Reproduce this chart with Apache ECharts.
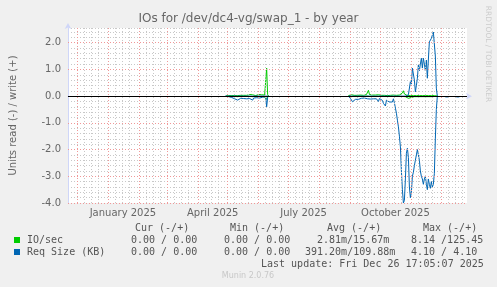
<!DOCTYPE html>
<html>
<head>
<meta charset="utf-8">
<script src="https://cdn.jsdelivr.net/npm/echarts@6/dist/echarts.min.js"></script>
<style>
html, body { margin: 0; padding: 0; background: #f0f0f0; }
#chart { width: 497px; height: 287px; }
</style>
</head>
<body>
<div id="chart"></div>
<script>
// --- data (one value per day) ---
const rangeStart = '2024-11-22';
const rangeEnd = '2025-12-26T17:05:07Z';

const monthStarts = ['2024-12-01', '2025-01-01', '2025-02-01', '2025-03-01', '2025-04-01', '2025-05-01',
    '2025-06-01', '2025-07-01', '2025-08-01', '2025-09-01', '2025-10-01', '2025-11-01', '2025-12-01'];
const labelDates = ['2025-01-16', '2025-04-16', '2025-07-16', '2025-10-16'];
const labelTexts = ['January 2025', 'April 2025', 'July 2025', 'October 2025'];
const yTicks = [-4, -3, -2, -1, 0, 1, 2];

// spring block, starts 2025-04-29
const springStart = '2025-04-29';
const springIoWrite = [0.00, 0.02, 0.03, 0.02, 0.04, 0.03, 0.02, 0.05, 0.03, 0.02, 0.06, 0.03, 0.02, 0.04, 0.06,
    0.03, 0.02, 0.05, 0.03, 0.06, 0.02, 0.03, 0.05, 0.02, 0.06, 0.03, 0.02, 0.05, 0.03, 0.06, 0.02, 0.04, 0.03,
    0.06, 0.02, 0.03, 0.05, 0.03, 0.02, 0.04, 0.10, 1.05, 0.05, 0.00];
const springIoRead = [0.00, 0.01, 0.00, 0.01, 0.02, 0.01, 0.00, 0.01, 0.02, 0.01, 0.01, 0.00, 0.02, 0.01, 0.01,
    0.00, 0.01, 0.02, 0.01, 0.00, 0.01, 0.01, 0.02, 0.00, 0.01, 0.01, 0.00, 0.02, 0.01, 0.01, 0.00, 0.01, 0.02,
    0.01, 0.00, 0.01, 0.01, 0.02, 0.01, 0.03, 0.05, 0.12, 0.02, 0.00];
const springReqWrite = [0.00, 0.00, 0.00, 0.00, 0.00, 0.00, 0.00, 0.00, 0.00, 0.00, 0.00, 0.00, 0.00, 0.00, 0.00,
    0.00, 0.00, 0.00, 0.00, 0.00, 0.00, 0.00, 0.00, 0.00, 0.00, 0.00, 0.00, 0.00, 0.00, 0.00, 0.00, 0.00, 0.00,
    0.00, 0.00, 0.00, 0.00, 0.00, 0.00, 0.00, 0.00, 0.05, 0.00, 0.00];
const springReqRead = [0.00, 0.02, 0.03, 0.02, 0.04, 0.02, 0.05, 0.03, 0.08, 0.10, 0.12, 0.17, 0.15, 0.17, 0.12,
    0.08, 0.10, 0.07, 0.09, 0.06, 0.08, 0.10, 0.07, 0.05, 0.09, 0.06, 0.11, 0.15, 0.07, 0.05, 0.10, 0.06, 0.08,
    0.05, 0.07, 0.03, 0.06, 0.04, 0.03, 0.05, 0.02, 0.40, 0.05, 0.00];

// autumn block, starts 2025-08-30
const autumnStart = '2025-08-30';
const autumnIoWrite = [0.02, 0.04, 0.05, 0.05, 0.04, 0.05, 0.03, 0.03, 0.04, 0.03,
    0.02, 0.03, 0.04, 0.03, 0.02, 0.03, 0.04, 0.05, 0.06, 0.12,
    0.22, 0.06, 0.04, 0.03, 0.04, 0.03, 0.05, 0.04, 0.03, 0.04,
    0.05, 0.03, 0.04, 0.03, 0.04, 0.05, 0.03, 0.04, 0.03, 0.02,
    0.03, 0.04, 0.03, 0.02, 0.03, 0.04, 0.03, 0.04, 0.03, 0.04,
    0.05, 0.04, 0.06, 0.08, 0.12, 0.20, 0.08, 0.04, 0.03, 0.02,
    0.02, 0.01, 0.02, 0.02, 0.01, 0.02, 0.02, 0.01, 0.02, 0.02,
    0.01, 0.02, 0.02, 0.01, 0.02, 0.02, 0.01, 0.02, 0.02, 0.01,
    0.02, 0.02, 0.01, 0.02, 0.02, 0.01, 0.02, 0.01, 0.01, 0.00];
const autumnIoRead = [0.00, 0.01, 0.01, 0.02, 0.01, 0.01, 0.00, 0.01, 0.01, 0.02,
    0.01, 0.01, 0.00, 0.01, 0.01, 0.02, 0.01, 0.01, 0.00, 0.01,
    0.02, 0.01, 0.01, 0.00, 0.01, 0.01, 0.02, 0.01, 0.01, 0.00,
    0.01, 0.01, 0.02, 0.01, 0.01, 0.00, 0.01, 0.01, 0.02, 0.01,
    0.01, 0.00, 0.01, 0.01, 0.02, 0.01, 0.01, 0.02, 0.01, 0.01,
    0.00, 0.01, 0.02, 0.01, 0.01, 0.02, 0.01, 0.02, 0.03, 0.04,
    0.08, 0.03, 0.02, 0.05, 0.02, 0.01, 0.02, 0.01, 0.01, 0.02,
    0.01, 0.01, 0.02, 0.01, 0.01, 0.02, 0.01, 0.01, 0.02, 0.01,
    0.01, 0.02, 0.01, 0.01, 0.02, 0.01, 0.01, 0.01, 0.01, 0.00];
const autumnReqWrite = [0.00, 0.00, 0.00, 0.00, 0.00, 0.00, 0.00, 0.00, 0.00, 0.00,
    0.00, 0.00, 0.00, 0.00, 0.00, 0.00, 0.00, 0.00, 0.00, 0.00,
    0.00, 0.00, 0.00, 0.00, 0.00, 0.00, 0.00, 0.00, 0.00, 0.00,
    0.00, 0.00, 0.00, 0.00, 0.00, 0.00, 0.00, 0.00, 0.00, 0.00,
    0.00, 0.00, 0.00, 0.00, 0.00, 0.00, 0.00, 0.00, 0.00, 0.00,
    0.00, 0.00, 0.00, 0.00, 0.00, 0.00, 0.00, 0.00, 0.00, 0.00,
    0.05, 0.04, 0.54, 0.45, 1.05, 1.07, 0.60, 0.16, 0.40, 0.67,
    1.16, 0.95, 1.20, 1.42, 1.05, 1.42, 1.20, 0.95, 1.35, 0.67,
    1.35, 2.03, 2.10, 2.16, 2.28, 2.40, 2.45, 1.50, 0.30, 0.00];
const autumnReqRead = [0.00, 0.05, 0.09, 0.12, 0.21, 0.14, 0.17, 0.12, 0.15, 0.10,
    0.12, 0.09, 0.11, 0.08, 0.12, 0.10, 0.07, 0.09, 0.06, 0.10,
    0.08, 0.07, 0.11, 0.09, 0.08, 0.10, 0.12, 0.08, 0.10, 0.14,
    0.20, 0.09, 0.12, 0.10, 0.16, 0.27, 0.32, 0.37, 0.15, 0.20,
    0.18, 0.22, 0.15, 0.18, 0.22, 0.10, 0.25, 0.45, 0.64, 0.90,
    1.15, 1.50, 1.90, 2.80, 3.50, 4.00, 3.90, 3.10, 2.14, 1.95,
    2.30, 3.40, 3.80, 3.60, 3.00, 2.85, 2.60, 2.40, 2.20, 2.00,
    1.95, 2.40, 2.80, 3.00, 3.10, 3.30, 3.10, 3.00, 3.30, 3.50,
    3.10, 3.30, 3.45, 3.20, 3.40, 3.30, 2.90, 1.60, 0.50, 0.00];

// a few tiny samples in December
const lateStart = '2025-12-05';
const lateReqRead = [0.03, 0.03, 0.03, 0.03, null, null, null, null, null, null, null, 0.03, 0.03, 0.03, 0.03];

// legend table
const statHeads = ['Cur (-/+)', 'Min (-/+)', 'Avg (-/+)', 'Max (-/+)'];
const ioStats = ['0.00 / 0.00', '0.00 / 0.00', '2.81m/15.67m', '8.14 /125.45'];
const reqStats = ['0.00 / 0.00', '0.00 / 0.00', '391.20m/109.88m', '4.10 / 4.10'];
const lastUpdate = 'Last update: Fri Dec 26 17:05:07 2025';

// --- helpers ---
const DAY = 86400000;
const ts = (d) => new Date(d.length > 10 ? d : d + 'T00:00:00Z').getTime();

function points(blocks, sign) {
    let out = [];
    blocks.forEach(([start, vals]) => {
        const t0 = ts(start);
        vals.forEach((v, i) => out.push([t0 + i * DAY, v == null ? null : sign * v]));
        out.push([t0 + vals.length * DAY, null]);
    });
    return out;
}

const GREEN = '#00cc00';
const BLUE = '#0066b3';
const AXIS = '#cfd6f8';
const MINOR = '#c8c8c8';
const MAJOR = '#f09898';

// minor vertical grid at day 8/15/22 of each month
const minorDays = [];
monthStarts.forEach(m => [7, 14, 21].forEach(k => {
    const t = ts(m) + k * DAY;
    if (t < ts(rangeEnd)) minorDays.push(t);
}));

const vline = (color, type) => ({
    silent: true, symbol: ['none', 'none'], animation: false,
    label: { show: false },
    lineStyle: { color: color, type: type, width: 1 },
});

const chart = echarts.init(document.getElementById('chart'), null, { renderer: 'canvas' });

const mono = '"DejaVu Sans Mono", monospace';
const textEls = [];
const cols1 = [135, 230, 327, 423];
const colsIo = [131, 224, 317, 411];
const colsReq = [131, 224, 305, 411];
statHeads.forEach((s, i) => textEls.push({ x: cols1[i], y: 228, s }));
ioStats.forEach((s, i) => textEls.push({ x: colsIo[i], y: 240, s }));
reqStats.forEach((s, i) => textEls.push({ x: colsReq[i], y: 252, s }));
textEls.push({ x: 261, y: 264, s: lastUpdate });

const option = {
    animation: false,
    backgroundColor: '#f0f0f0',
    title: {
        text: 'IOs for /dev/dc4-vg/swap_1 - by year',
        left: 'center',
        top: 13,
        padding: 0,
        textStyle: { fontFamily: 'DejaVu Sans', fontSize: 12, fontWeight: 'normal', color: '#666' }
    },
    legend: {
        data: ['IO/sec', 'Req Size (KB)'],
        orient: 'vertical',
        left: 14,
        top: 234,
        padding: 0,
        itemGap: 0,
        itemWidth: 6,
        itemHeight: 6,
        icon: 'rect',
        selectedMode: false,
        textStyle: { fontFamily: mono, fontSize: 10, color: '#555', lineHeight: 12, padding: [0, 0, 0, 2] }
    },
    grid: {
        left: 67, right: 30, top: 28, bottom: 84,
        show: true, backgroundColor: '#ffffff', borderWidth: 0
    },
    xAxis: {
        type: 'value',
        min: ts(rangeStart),
        max: ts(rangeEnd),
        axisLine: { show: true, lineStyle: { color: AXIS }, symbol: ['none', 'arrow'], symbolSize: [5, 6], symbolOffset: [0, 5] },
        axisTick: { show: false },
        splitLine: { show: false },
        axisLabel: {
            customValues: labelDates.map(ts),
            margin: 5,
            fontFamily: 'DejaVu Sans', fontSize: 10, color: '#666',
            formatter: (v) => labelTexts[labelDates.map(ts).indexOf(v)] || ''
        }
    },
    yAxis: {
        type: 'value',
        min: -4,
        max: 2.55,
        interval: 0.2,
        name: 'Units read (-) / write (+)',
        nameLocation: 'middle',
        nameGap: 50,
        nameTextStyle: { fontFamily: 'DejaVu Sans', fontSize: 10, color: '#666' },
        axisLine: { show: true, lineStyle: { color: AXIS }, symbol: ['none', 'arrow'], symbolSize: [5, 6], symbolOffset: [0, 5] },
        axisTick: { show: false },
        splitLine: { show: true, lineStyle: { color: MINOR, type: [1, 2], width: 1 } },
        axisLabel: {
            margin: 7,
            fontFamily: 'DejaVu Sans', fontSize: 10, color: '#666',
            formatter: (v) => yTicks.includes(Math.round(v * 10) / 10) ? v.toFixed(1) : ''
        }
    },
    graphic: [
        ...textEls.map(e => ({
            type: 'text', x: e.x, y: e.y,
            style: { text: e.s, font: '10px ' + mono, fill: '#555', verticalAlign: 'middle' }
        })),
        {
            type: 'text', x: 248, y: 276,
            style: { text: 'Munin 2.0.76', font: '8px "DejaVu Sans"', fill: '#c8c8c8', align: 'center', verticalAlign: 'middle' }
        },
        {
            type: 'text', x: 488, y: 54, rotation: -Math.PI / 2,
            style: { text: 'RRDTOOL / TOBI OETIKER', font: '7.5px "DejaVu Sans"', fill: '#cccccc', align: 'center', verticalAlign: 'middle' }
        }
    ],
    series: [
        {
            // grid lines
            type: 'line', data: [], z: 1, silent: true,
            markLine: Object.assign(vline(MINOR, [1, 2]), {
                data: minorDays.map(t => ({ xAxis: t }))
            })
        },
        {
            type: 'line', data: [], z: 1, silent: true,
            markLine: Object.assign(vline(MAJOR, [1, 2]), {
                data: monthStarts.map(m => ({ xAxis: ts(m) }))
                    .concat(yTicks.filter(v => v !== 0).map(v => ({ yAxis: v })))
            })
        },
        {
            name: 'IO/sec', type: 'line', z: 3, color: GREEN, symbol: 'none', connectNulls: false,
            lineStyle: { width: 1 },
            data: points([[springStart, springIoRead], [autumnStart, autumnIoRead]], -1)
        },
        {
            name: 'IO/sec', type: 'line', z: 3, color: GREEN, symbol: 'none', connectNulls: false,
            lineStyle: { width: 1 },
            data: points([[springStart, springIoWrite], [autumnStart, autumnIoWrite]], 1)
        },
        {
            name: 'Req Size (KB)', type: 'line', z: 3, color: BLUE, symbol: 'none', connectNulls: false,
            lineStyle: { width: 1 },
            data: points([[springStart, springReqRead], [autumnStart, autumnReqRead], [lateStart, lateReqRead]], -1)
        },
        {
            name: 'Req Size (KB)', type: 'line', z: 3, color: BLUE, symbol: 'none', connectNulls: false,
            lineStyle: { width: 1 },
            data: points([[springStart, springReqWrite], [autumnStart, autumnReqWrite]], 1)
        },
        {
            // zero rule on top
            type: 'line', data: [], z: 5, silent: true,
            markLine: Object.assign(vline('#000000', 'solid'), { data: [{ yAxis: 0 }] })
        }
    ]
};

chart.setOption(option);
</script>
</body>
</html>
